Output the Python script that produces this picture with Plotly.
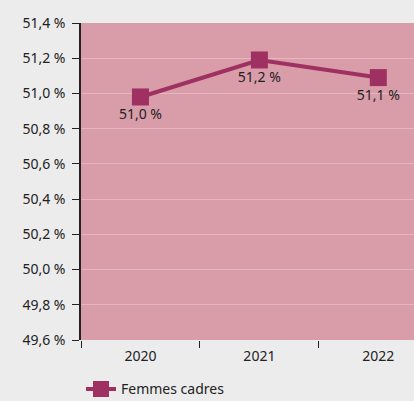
import plotly.graph_objects as go

years = ["2020", "2021", "2022"]
values = [50.98, 51.19, 51.09]
labels = ["51,0 %", "51,2 %", "51,1 %"]
yticks = [49.6, 49.8, 50.0, 50.2, 50.4, 50.6, 50.8, 51.0, 51.2, 51.4]
yticklabels = ["49,6 %", "49,8 %", "50,0 %", "50,2 %", "50,4 %", "50,6 %", "50,8 %", "51,0 %", "51,2 %", "51,4 %"]

color = "#9e3161"
fig = go.Figure()
fig.add_trace(go.Scatter(
    x=years, y=values, mode="lines+markers+text", name="Femmes cadres",
    text=labels, textposition="bottom center",
    textfont=dict(size=14, color="#222222"),
    line=dict(color=color, width=4),
    marker=dict(symbol="square", size=17, color=color),
))
fig.update_layout(
    width=414, height=401,
    margin=dict(l=81, r=0, t=23, b=61, autoexpand=False),
    paper_bgcolor="#ececec", plot_bgcolor="#d99ca9",
    font=dict(family="Noto Sans, Open Sans, sans-serif", size=14, color="#222222"),
    showlegend=True,
    legend=dict(orientation="h", x=0.0, xanchor="left", y=-0.105, yanchor="top",
                font=dict(size=14), bgcolor="rgba(0,0,0,0)"),
    xaxis=dict(type="category", range=[-0.5, 2.3], tickson="boundaries",
               ticks="outside", ticklen=7, tickcolor="#222222", showgrid=False,
               showline=False, zeroline=False, ticklabelstandoff=6),
    yaxis=dict(range=[49.6, 51.4], tickvals=yticks, ticktext=yticklabels,
               ticks="outside", ticklen=7, tickcolor="#222222",
               showline=True, linecolor="#222222", linewidth=1.5,
               gridcolor="#e6b5bf", gridwidth=1, zeroline=False, ticklabelstandoff=4),
)
fig.write_html("out.html", config={"displayModeBar": False},
               post_script="document.body.style.margin='0';document.body.style.background='#ececec';")
